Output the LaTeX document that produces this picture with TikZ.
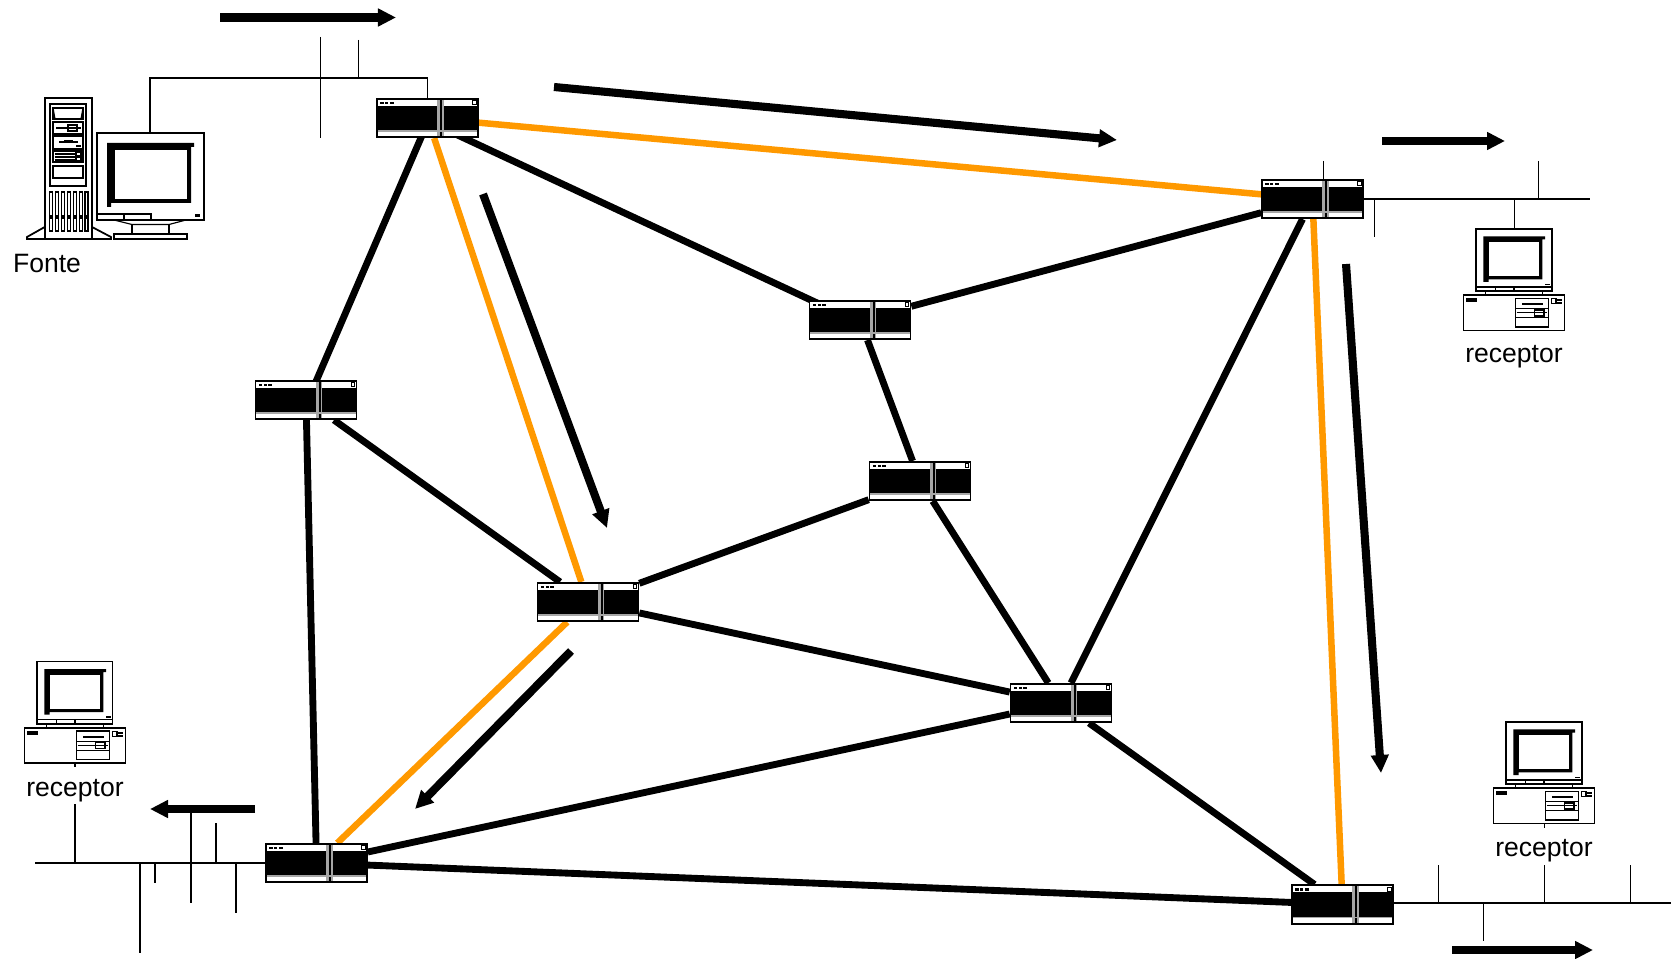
\documentclass[tikz,border=0pt]{standalone}
\usepackage{fontspec}
\setmainfont{Liberation Sans}
\usetikzlibrary{arrows.meta,backgrounds}
\definecolor{laranja}{HTML}{FF9900}

% Corpo do roteador (origem no centro do no)
\newcommand{\corpoRoteador}{%
	\fill[black] (-50.5,-12.25) rectangle (9.5,12.45);
	\fill[black] (16.2,-12.25) rectangle (50.5,12.45);
	\fill[black!35] (9.5,-19.25) rectangle (12.5,19.75);
	\fill[black] (12.5,-19.25) rectangle (14.5,19.75);
	\fill[black!35] (14.5,-19.25) rectangle (16.2,19.75);
	\fill[black!35] (-50.5,12.45) rectangle (50.5,13.75);
	\fill[black] (-47.2,-16.25) rectangle (-44,-13.75);
	\fill[black] (-42.5,-16.25) rectangle (-39.5,-13.75);
	\fill[black] (-38,-16.25) rectangle (-34,-13.75);
	\draw[line width=.3pt] (45.2,-17.25) rectangle (48.8,-13.25);
}

% Monitor pequeno sobre o gabinete (origem no topo do monitor)
\newcommand{\desktop}[1]{%
	\begin{scope}[shift={(#1)},line width=.35pt]
		\draw[line width=.45pt] (-38,0) rectangle (37.7,62);
		\fill (-30.7,7.3) -- (31,7.3) -- (31,10.5) -- (28.3,10.5) -- (28.3,50.3)
			-- (-25.3,50.3) -- (-25.3,53) -- (-30.7,53) -- cycle;
		\fill[white] (-25.3,13) rectangle (25,47);
		\fill (31,54.7) rectangle (36,56.3);
		\draw (-38,58) -- (37.7,58);
		\draw (-18.7,58) -- (-18.7,62);
		\draw (0,58) -- (0,62);
		\draw (-28.3,62) -- (-28.3,66);
		\draw (28.3,62) -- (28.3,66);
		\draw[line width=.45pt] (-50.7,66) rectangle (50.3,101.3);
		\fill (-48,69.3) rectangle (-37.3,73);
		\draw (1.3,69.3) rectangle (34.7,98);
		\fill (7.7,74) rectangle (28.7,76);
		\draw (1.3,79.7) -- (34.7,79.7);
		\draw (2.7,83.7) -- (32.7,83.7);
		\draw (20.7,81) rectangle (30,87);
		\draw (1.3,88.7) -- (34.7,88.7);
		\draw (37.7,69.7) rectangle (42,74.7);
		\fill (43.3,70) rectangle (47.7,72);
		\fill (43.3,73) rectangle (47.7,75);
	\end{scope}}

\tikzset{
	router/.style={draw, line width=.45pt, fill=white, minimum width=1.01cm, minimum height=.385cm, inner sep=0pt, path picture={\corpoRoteador}},
	enlace/.style={line width=1.95pt},
	rota/.style={line width=1.85pt, laranja},
	fluxo/.style={line width=2.3pt, -{Triangle[length=.18cm,width=.17cm]}},
	barra/.style={line width=.3pt},
	rotulo/.style={anchor=base, font=\fontsize{7.55pt}{8pt}\selectfont}
}

\begin{document}
\begin{tikzpicture}[x=.01cm,y=-.01cm]
	\useasboundingbox (0,0) rectangle (1671,958);

	% Roteadores
	\node[router] (r1) at (427.5,118) {};
	\node[router] (r2) at (1312.5,199) {};
	\node[router] (r3) at (860,320) {};
	\node[router] (r4) at (306,400) {};
	\node[router] (r5) at (920,481) {};
	\node[router] (r6) at (588,602) {};
	\node[router] (r7) at (1061,703) {};
	\node[router] (r8) at (316.5,863) {};
	\node[router] (r9) at (1342.5,904.5) {};

	% Enlaces e caminho multicast
	\begin{scope}[on background layer]
		\draw[enlace] ([yshift=-.03cm]r1.center) -- ([yshift=-.03cm]r3.center);
		\draw[enlace] ([xshift=.02cm]r1.center) -- ([xshift=.02cm]r4.center);
		\draw[enlace] (r3) -- (r2);
		\draw[enlace] (r3) -- (r5);
		\draw[enlace] (r4) -- (r6);
		\draw[enlace] (r4) -- (r8);
		\draw[enlace] (r5) -- (r6);
		\draw[enlace] (r5) -- (r7);
		\draw[enlace] (r6) -- (r7);
		\draw[enlace] (r7) -- (r2);
		\draw[enlace] (r7) -- (r8);
		\draw[enlace] (r7) -- (r9);
		\draw[enlace] (r8) -- (r9);
		\draw[rota] (r1) -- (r2);
		\draw[rota] (r1) -- (r6);
		\draw[rota] (r6) -- (r8);
		\draw[rota] (r2) -- (r9);
	\end{scope}

	% Setas de fluxo
	\coordinate (s1a) at (220,17.5);
	\coordinate (s1b) at (396,17.5);
	\coordinate (s2a) at (554,87);
	\coordinate (s2b) at (1117,140);
	\coordinate (s3a) at (483,194);
	\coordinate (s3b) at (607,528);
	\coordinate (s4a) at (571,651);
	\coordinate (s4b) at (415,809);
	\coordinate (s5a) at (1346,264);
	\coordinate (s5b) at (1381,773);
	\coordinate (s6a) at (1382,141);
	\coordinate (s6b) at (1505,141);
	\coordinate (s7a) at (255,809);
	\coordinate (s7b) at (150,809);
	\coordinate (s8a) at (1452,950);
	\coordinate (s8b) at (1593,950);
	\draw[fluxo] (s1a) -- (s1b);
	\draw[fluxo] (s2a) -- (s2b);
	\draw[fluxo] (s3a) -- (s3b);
	\draw[fluxo] (s4a) -- (s4b);
	\draw[fluxo] (s5a) -- (s5b);
	\draw[fluxo] (s6a) -- (s6b);
	\draw[fluxo] (s7a) -- (s7b);
	\draw[fluxo] (s8a) -- (s8b);

	% Fonte: torre e monitor grande
	\coordinate (fonte) at (150,133);
	\begin{scope}[line width=.33pt]
		\draw[line width=.5pt] (44.7,98) rectangle (92,239);
		\draw[line width=.5pt] (44.7,227) -- (27,237) -- (27,239) -- (44.7,239);
		\draw[line width=.5pt] (92,227) -- (111,237) -- (111,239) -- (92,239);
		\draw[line width=.5pt] (50,104) rectangle (86,186);
		\draw (53,108) rectangle (83,119);
		\draw (53,108) -- (55,119);
		\draw (83,108) -- (81,119);
		\draw (53,122) rectangle (83,134);
		\draw (56,128) -- (81,128);
		\draw (68,125) rectangle (77,131);
		\draw (53,136) rectangle (83,149);
		\draw (59,142) -- (78,142);
		\fill (64,140.5) rectangle (73,143.5);
		\fill (76,145) rectangle (81,147.5);
		\draw (53,151) rectangle (83,162);
		\draw (54.5,154) -- (75,154);
		\draw (54.5,157) -- (75,157);
		\draw (54.5,160) -- (75,160);
		\draw (76,152.5) rectangle (81,156);
		\draw (76,157) rectangle (81,160.5);
		\draw (53,166) rectangle (83,178);
		\draw (49.5,192) rectangle (52.5,216);
		\draw (55.5,192) rectangle (58.5,216);
		\draw (61.5,192) rectangle (64.5,216);
		\draw (67.5,192) rectangle (70.5,216);
		\draw (73.5,192) rectangle (76.5,216);
		\draw (79.5,192) rectangle (82.5,216);
		\draw (85,192) rectangle (88,216);
		\draw (49.5,218) rectangle (52.5,231);
		\draw (55.5,218) rectangle (58.5,231);
		\draw (61.5,218) rectangle (64.5,231);
		\draw (67.5,218) rectangle (70.5,231);
		\draw (73.5,218) rectangle (76.5,231);
		\draw (79.5,218) rectangle (82.5,231);
		\draw (85,218) rectangle (88,231);
		\draw[line width=.5pt] (97,133) rectangle (204,220);
		\fill (107,143) -- (194,143) -- (194,147) -- (191,147) -- (191,203)
			-- (111,203) -- (111,207) -- (107,207) -- cycle;
		\fill[white] (115,150) rectangle (187,199);
		\fill (195,214) rectangle (200,217);
		\draw (97,214) -- (151,214) -- (151,220);
		\draw (124,214) -- (124,220);
		\draw (114,220) -- (132,224.5) -- (169,224.5) -- (186,220);
		\draw (132,224.5) -- (132,234);
		\draw (169,224.5) -- (169,234);
		\draw (114,234) rectangle (187,239);
	\end{scope}
	\node[rotulo] (lfonte) at (47,272) {Fonte};

	% Receptores
	\coordinate (pc1) at (1514,229);
	\coordinate (pc2) at (75,661.7);
	\coordinate (pc3) at (1544,722);
	\desktop{pc1}
	\desktop{pc2}
	\desktop{pc3}
	\node[rotulo] (lpc1) at (1514,362.7) {receptor};
	\node[rotulo] (lpc2) at (75,796) {receptor};
	\node[rotulo] (lpc3) at (1544,856) {receptor};

	% Barramento superior
	\coordinate (b1) at (150,78);
	\coordinate (b2) at (427.5,78);
	\draw[barra] (fonte) -- (b1) -- (b2) -- (r1.north);
	\draw[barra] (320.3,37) -- (320.3,138);
	\draw[barra] (358.3,40) -- (358.3,78);

	% Barramento da direita
	\coordinate (b3) at (1590,199);
	\draw[barra] (r2.east) -- (b3);
	\draw[barra] (pc1) -- (pc1 |- b3);
	\draw[barra] (1323,161) -- (1323,180);
	\draw[barra] (1374,199) -- (1374,237);
	\draw[barra] (1538,161) -- (1538,199);

	% Barramento inferior esquerdo
	\coordinate (b4) at (35,863);
	\draw[barra] (r8.west) -- (b4);
	\draw[barra] (75,763) -- (75,767);
	\draw[barra] (75,804) -- (75,863);
	\draw[barra] (140,863) -- (140,953);
	\draw[barra] (155,863) -- (155,883);
	\draw[barra] (191,813) -- (191,903);
	\draw[barra] (216,823) -- (216,863);
	\draw[barra] (236,863) -- (236,913);

	% Barramento inferior direito
	\coordinate (b5) at (1671,903);
	\draw[barra] (r9.east |- b5) -- (b5);
	\draw[barra] (1438,865) -- (1438,903);
	\draw[barra] (1544,823) -- (1544,828);
	\draw[barra] (1544,865) -- (1544,903);
	\draw[barra] (1630,865) -- (1630,903);
	\draw[barra] (1483,903) -- (1483,941);
\end{tikzpicture}
\end{document}
